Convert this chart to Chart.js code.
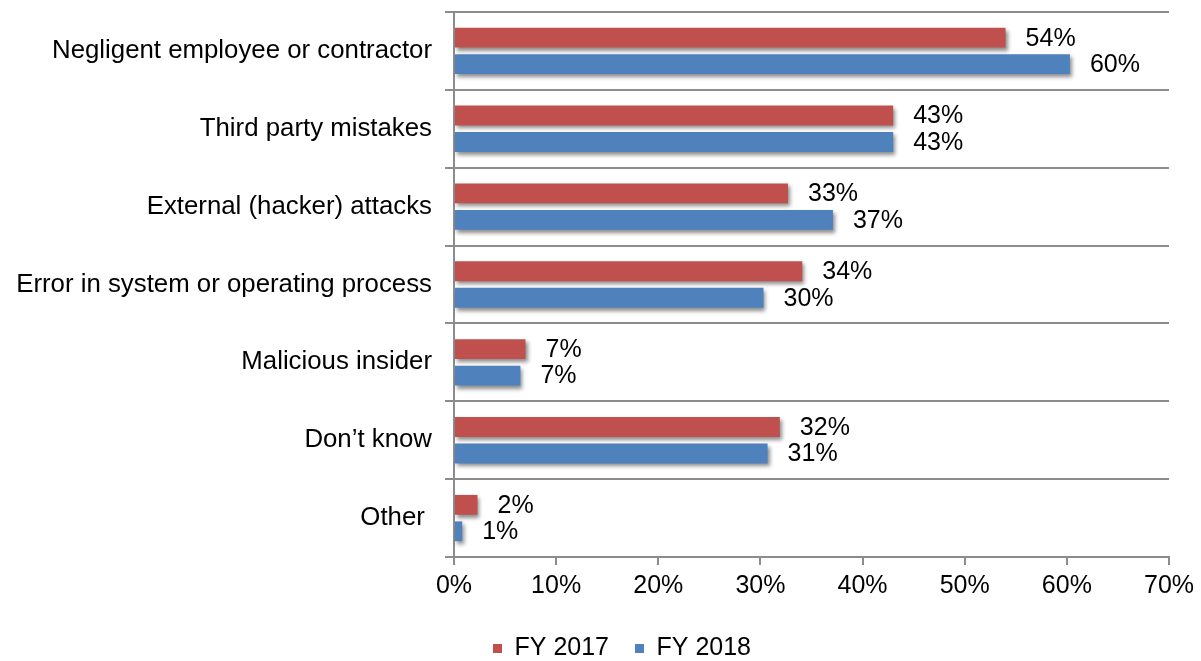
<!DOCTYPE html>
<html>
<head>
<meta charset="utf-8">
<script src="https://cdn.jsdelivr.net/npm/chart.js@4.4.1/dist/chart.umd.min.js"></script>
<style>
  html, body { margin: 0; padding: 0; background: #fff; }
  canvas { display: block; }
</style>
</head>
<body>
<canvas id="chart" width="1201" height="661"></canvas>
<script>
const categories = [
    'Negligent employee or contractor',
    'Third party mistakes',
    'External (hacker) attacks',
    'Error in system or operating process',
    'Malicious insider',
    'Don\u2019t know',
    'Other '
];
const fy2017 = [54, 43, 32.7, 34.1, 7, 31.9, 2.3];
const fy2018 = [60.3, 43, 37.1, 30.3, 6.5, 30.7, 0.8];
const fy2017Labels = ['54%', '43%', '33%', '34%', '7%', '32%', '2%'];
const fy2018Labels = ['60%', '43%', '37%', '30%', '7%', '31%', '1%'];
const xTicks = [0, 10, 20, 30, 40, 50, 60, 70];

const FONT = '"Liberation Sans", Arial, sans-serif';
const GRID = '#8c8c8c';

Chart.defaults.font.family = FONT;
Chart.defaults.color = '#000';

const barShadow = {
    id: 'barShadow',
    beforeDatasetsDraw(chart) {
        const ctx = chart.ctx;
        ctx.save();
        ctx.shadowColor = 'rgba(0,0,0,0.45)';
        ctx.shadowBlur = 4;
        ctx.shadowOffsetX = 2;
        ctx.shadowOffsetY = 3;
    },
    afterDatasetsDraw(chart) {
        chart.ctx.restore();
    }
};

const valueLabels = {
    id: 'valueLabels',
    afterDraw(chart) {
        const ctx = chart.ctx;
        const texts = [fy2017Labels, fy2018Labels];
        ctx.save();
        ctx.font = '25px ' + FONT;
        ctx.fillStyle = '#000';
        ctx.textAlign = 'left';
        ctx.textBaseline = 'middle';
        chart.data.datasets.forEach((ds, i) => {
            chart.getDatasetMeta(i).data.forEach((bar, j) => {
                ctx.fillText(texts[i][j], bar.x + 20, bar.y + 1);
            });
        });
        ctx.restore();
    }
};

// legend sits a bit right of the canvas centre in the original
const legendShift = {
    id: 'legendShift',
    beforeDraw(chart) {
        if (chart.legend) chart.legend.left = 75;
    }
};

new Chart(document.getElementById('chart'), {
    type: 'bar',
    data: {
        labels: categories,
        datasets: [
            {
                label: 'FY 2017',
                data: fy2017,
                backgroundColor: '#c0504d',
                categoryPercentage: 0.68,
                barPercentage: 0.75
            },
            {
                label: 'FY 2018',
                data: fy2018,
                backgroundColor: '#4f81bd',
                categoryPercentage: 0.68,
                barPercentage: 0.75
            }
        ]
    },
    options: {
        indexAxis: 'y',
        responsive: false,
        animation: false,
        devicePixelRatio: 1,
        layout: {
            padding: { left: 0, right: 32, top: 12, bottom: -10 }
        },
        scales: {
            x: {
                min: 0,
                max: 70,
                afterBuildTicks: (scale) => {
                    scale.ticks = xTicks.map(v => ({ value: v }));
                },
                afterFit: (scale) => { scale.height = 53; },
                ticks: {
                    callback: v => v + '%',
                    font: { size: 25 },
                    padding: 6,
                    maxRotation: 0
                },
                grid: {
                    drawOnChartArea: false,
                    tickLength: 8,
                    color: GRID,
                    lineWidth: 2
                },
                border: { color: GRID, width: 2 }
            },
            y: {
                afterFit: (scale) => {
                    scale.width = 454;
                    scale.paddingTop = 0;
                    scale.paddingBottom = 0;
                },
                ticks: {
                    font: { size: 25.8 },
                    padding: 13
                },
                grid: {
                    color: GRID,
                    lineWidth: 2,
                    tickLength: 9
                },
                border: { color: GRID, width: 2 }
            }
        },
        plugins: {
            legend: {
                position: 'bottom',
                labels: {
                    boxWidth: 9,
                    boxHeight: 9,
                    padding: 26,
                    font: { size: 25 }
                }
            },
            tooltip: { enabled: false }
        }
    },
    plugins: [barShadow, valueLabels, legendShift]
});
</script>
</body>
</html>
